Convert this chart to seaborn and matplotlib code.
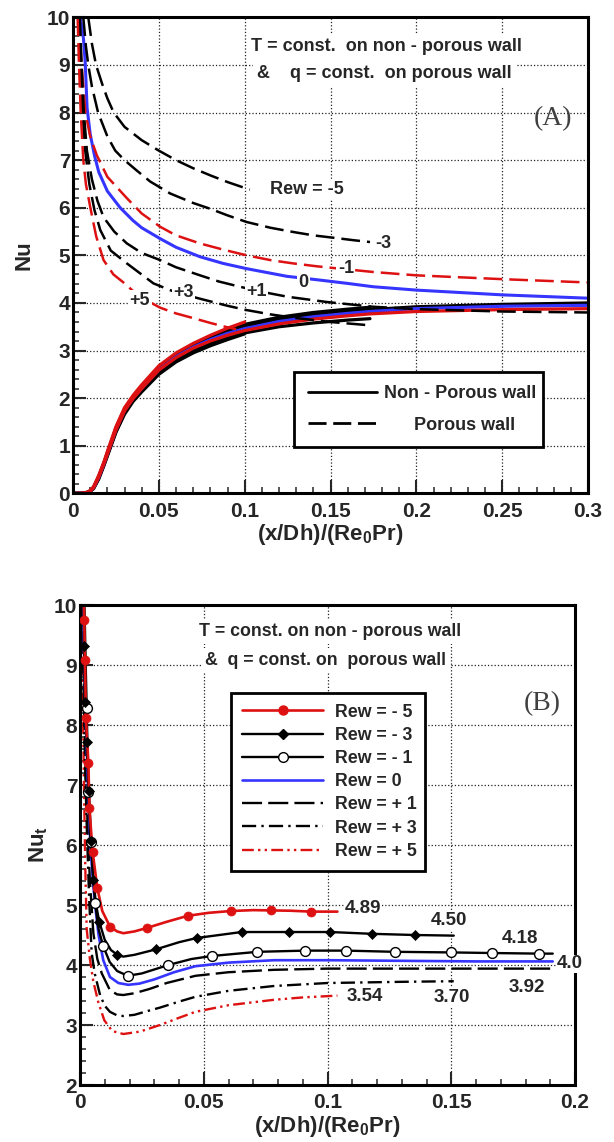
import numpy as np
import pandas as pd
import matplotlib
matplotlib.use("Agg")
import matplotlib.pyplot as plt
from matplotlib.lines import Line2D
from matplotlib.ticker import MultipleLocator
import seaborn as sns

sns.set_style("ticks")
plt.rcParams['font.family'] = ['Liberation Sans', 'DejaVu Sans']
plt.rcParams['font.weight'] = 'bold'
plt.rcParams['mathtext.fontset'] = 'custom'
plt.rcParams['mathtext.rm'] = 'Liberation Sans:bold'
plt.rcParams['mathtext.it'] = 'Liberation Sans:bold'
plt.rcParams['mathtext.bf'] = 'Liberation Sans:bold'

RED = '#dd1111'
BLUE = '#3535ff'

# ---------------- panel (A) data ----------------
# non-porous wall (solid, rising)
x_solid = [0.0, 0.005, 0.008, 0.01, 0.012, 0.015, 0.018, 0.02, 0.025, 0.03, 0.035, 0.04,
           0.05, 0.06, 0.07, 0.08, 0.09, 0.1, 0.12, 0.14, 0.16, 0.173, 0.2, 0.25, 0.3]
nu_solid_m5 = [0, 0, 0.01, 0.04, 0.1, 0.3, 0.58, 0.78, 1.28, 1.66, 1.93, 2.13, 2.5, 2.76, 2.95,
               3.1, 3.23, 3.35]
nu_solid_m3 = [0, 0, 0.01, 0.04, 0.11, 0.32, 0.6, 0.8, 1.3, 1.69, 1.96, 2.17, 2.55, 2.81, 3.0,
               3.15, 3.27, 3.37, 3.5, 3.58, 3.64, 3.67]
nu_solid_m1 = [0, 0, 0.015, 0.045, 0.12, 0.34, 0.62, 0.82, 1.33, 1.73, 1.99, 2.2, 2.59, 2.85,
               3.05, 3.2, 3.32, 3.42, 3.56, 3.66, 3.73, 3.77, 3.82, 3.86, 3.88]
nu_solid_0 = [0, 0, 0.015, 0.045, 0.12, 0.34, 0.62, 0.83, 1.34, 1.74, 2.0, 2.21, 2.6, 2.87,
              3.07, 3.23, 3.36, 3.46, 3.61, 3.71, 3.78, 3.82, 3.88, 3.93, 3.95]
nu_solid_p1 = [0, 0, 0.02, 0.05, 0.12, 0.35, 0.63, 0.84, 1.35, 1.75, 2.01, 2.23, 2.62, 2.9,
               3.11, 3.27, 3.4, 3.5, 3.65, 3.75, 3.82, 3.86, 3.92, 3.97, 4.0]
nu_solid_p3 = [0, 0, 0.02, 0.05, 0.13, 0.36, 0.64, 0.85, 1.37, 1.77, 2.03, 2.25, 2.64, 2.92,
               3.13, 3.3, 3.44, 3.55, 3.7, 3.8, 3.87, 3.91]
nu_solid_p5 = [0, 0, 0.02, 0.06, 0.14, 0.38, 0.66, 0.88, 1.4, 1.8, 2.06, 2.28, 2.68, 2.95,
               3.15, 3.32, 3.47, 3.6]

# porous wall (dashed, falling)
x_por_m5 = [0.0089, 0.011, 0.0134, 0.017, 0.02, 0.0237, 0.03, 0.04, 0.05, 0.06, 0.07, 0.08, 0.09, 0.103]
nu_por_m5 = [10, 9.45, 9.0, 8.6, 8.3, 8.0, 7.7, 7.42, 7.2, 7.0, 6.83, 6.68, 6.54, 6.38]
x_por_m3 = [0.006, 0.0075, 0.0089, 0.011, 0.0146, 0.02, 0.0246, 0.03, 0.0372, 0.045, 0.0566, 0.07,
            0.0798, 0.09, 0.1012, 0.115, 0.1284, 0.14, 0.1517, 0.163, 0.173]
nu_por_m3 = [10, 9.4, 9.0, 8.55, 8.0, 7.5, 7.2, 7.0, 6.78, 6.55, 6.3, 6.1, 5.98, 5.84, 5.7, 5.58,
             5.49, 5.42, 5.37, 5.32, 5.28]
x_por_m1 = [0.0035, 0.005, 0.0072, 0.01, 0.0139, 0.02, 0.0314, 0.04, 0.0508, 0.06, 0.074, 0.0875,
            0.1012, 0.115, 0.1284, 0.142, 0.1556, 0.175, 0.2, 0.25, 0.3]
nu_por_m1 = [10, 9, 8, 7.5, 7.1, 6.65, 6.2, 5.88, 5.6, 5.42, 5.25, 5.12, 5.0, 4.9, 4.83, 4.77,
             4.72, 4.65, 4.58, 4.5, 4.43]
x_por_0 = [0.0043, 0.0061, 0.0071, 0.0082, 0.01, 0.0125, 0.015, 0.02, 0.0275, 0.035, 0.04, 0.0508,
           0.06, 0.074, 0.0875, 0.1012, 0.1245, 0.1439, 0.16, 0.175, 0.2, 0.25, 0.3]
nu_por_0 = [10, 9.55, 9.06, 8.1, 7.55, 7.1, 6.75, 6.35, 6.0, 5.73, 5.58, 5.35, 5.17, 4.97, 4.83,
            4.72, 4.56, 4.48, 4.41, 4.34, 4.27, 4.17, 4.1]
x_por_p1 = [0.004, 0.005, 0.0063, 0.0081, 0.011, 0.0142, 0.0178, 0.024, 0.0314, 0.04, 0.0508, 0.06,
            0.074, 0.085, 0.0973, 0.112, 0.125, 0.1478, 0.175, 0.2, 0.25, 0.3]
nu_por_p1 = [10, 9, 8, 7.2, 6.6, 6.15, 5.8, 5.5, 5.25, 5.05, 4.9, 4.75, 4.58, 4.45, 4.34, 4.22,
             4.13, 4.02, 3.92, 3.87, 3.82, 3.8]
x_por_p3 = [0.0035, 0.0045, 0.0055, 0.0071, 0.0095, 0.0125, 0.0159, 0.022, 0.0314, 0.0469, 0.06,
            0.076, 0.09, 0.1012, 0.115, 0.1284, 0.15, 0.173]
nu_por_p3 = [10, 9, 8, 7.2, 6.5, 5.95, 5.53, 5.1, 4.83, 4.41, 4.22, 4.07, 3.94, 3.85, 3.76, 3.69,
             3.6, 3.53]
x_por_p5 = [0.0027, 0.0035, 0.0045, 0.006, 0.0075, 0.01, 0.0135, 0.0178, 0.0235, 0.0294, 0.035,
            0.042, 0.0508, 0.06, 0.0702, 0.08, 0.0886, 0.095]
nu_por_p5 = [10, 9, 8, 7, 6.5, 6.02, 5.4, 4.9, 4.6, 4.43, 4.25, 4.07, 3.9, 3.78, 3.68, 3.58, 3.5, 3.45]

curve_labels_a = ['Rew = -5', '-3', '-1', '0', '+1', '+3', '+5']
curve_label_pos_a = [(0.136, 6.38), (0.1805, 5.24), (0.159, 4.72), (0.134, 4.43),
                     (0.107, 4.24), (0.0643, 4.21), (0.039, 4.06)]

# ---------------- panel (B) data ----------------
x_b_m5 = [0.0016, 0.0020, 0.0024, 0.0034, 0.0038, 0.0051, 0.0070, 0.0090, 0.0121, 0.0150, 0.0175,
          0.0220, 0.0272, 0.0350, 0.0435, 0.0520, 0.0609, 0.0700, 0.0772, 0.0850, 0.0934, 0.1040]
nu_b_m5 = [10.0, 9.1, 8.11, 7.36, 6.61, 5.89, 5.28, 4.9, 4.64, 4.56, 4.53, 4.56, 4.62, 4.72, 4.82,
           4.87, 4.9, 4.915, 4.91, 4.905, 4.89, 4.89]
mx_b_m5 = [0.0018, 0.0019, 0.0024, 0.0034, 0.0038, 0.0051, 0.0070, 0.0121, 0.0272, 0.0435, 0.0609,
           0.0772, 0.0934]
my_b_m5 = [9.75, 9.08, 8.11, 7.36, 6.61, 5.89, 5.28, 4.64, 4.62, 4.82, 4.9, 4.91, 4.89]

x_b_m3 = [0.0014, 0.0016, 0.0020, 0.0027, 0.0036, 0.0045, 0.0054, 0.0065, 0.0078, 0.0100, 0.0125,
          0.0151, 0.0175, 0.0220, 0.0306, 0.0400, 0.0471, 0.0653, 0.0846, 0.1012, 0.1179, 0.1355, 0.1510]
nu_b_m3 = [10.0, 9.32, 8.39, 7.72, 6.9, 6.06, 5.42, 5.0, 4.72, 4.42, 4.25, 4.17, 4.14, 4.17, 4.26,
           4.38, 4.45, 4.55, 4.55, 4.55, 4.52, 4.5, 4.49]
mx_b_m3 = [0.0016, 0.0020, 0.0027, 0.0036, 0.0045, 0.0054, 0.0078, 0.0151, 0.0306, 0.0471, 0.0653,
           0.0846, 0.1012, 0.1179, 0.1355]
my_b_m3 = [9.32, 8.39, 7.72, 6.9, 6.06, 5.42, 4.72, 4.17, 4.26, 4.45, 4.55, 4.55, 4.55, 4.52, 4.5]

x_b_m1 = [0.0018, 0.0022, 0.0027, 0.0034, 0.0043, 0.0061, 0.0075, 0.0094, 0.0120, 0.0150, 0.0193,
          0.0250, 0.0357, 0.0450, 0.0532, 0.0717, 0.0911, 0.1075, 0.1273, 0.1497, 0.1665, 0.1853, 0.1910]
nu_b_m1 = [10.0, 9.2, 8.28, 6.89, 6.05, 5.04, 4.6, 4.31, 4.05, 3.9, 3.82, 3.86, 4.0, 4.1, 4.15, 4.22,
           4.24, 4.24, 4.22, 4.21, 4.2, 4.19, 4.19]
mx_b_m1 = [0.0027, 0.0034, 0.0043, 0.0061, 0.0094, 0.0193, 0.0357, 0.0532, 0.0717, 0.0911, 0.1075,
           0.1273, 0.1497, 0.1665, 0.1853]
my_b_m1 = [8.28, 6.89, 6.05, 5.04, 4.31, 3.82, 4.0, 4.15, 4.22, 4.24, 4.24, 4.22, 4.21, 4.2, 4.19]

x_b_0 = [0.0012, 0.0018, 0.0025, 0.0033, 0.0042, 0.0052, 0.0061, 0.0075, 0.0094, 0.0121, 0.0155,
         0.0195, 0.0240, 0.0300, 0.0380, 0.0466, 0.0600, 0.0783, 0.1000, 0.1300, 0.1600, 0.1910]
nu_b_0 = [10.0, 8.9, 7.9, 6.9, 6.0, 5.4, 5.0, 4.5, 4.08, 3.8, 3.7, 3.67, 3.69, 3.76, 3.88, 3.98,
          4.04, 4.08, 4.08, 4.07, 4.06, 4.06]

x_b_p1 = [0.0010, 0.0016, 0.0022, 0.0030, 0.0040, 0.0054, 0.0070, 0.0088, 0.0121, 0.0150, 0.0175,
          0.0220, 0.0280, 0.0350, 0.0466, 0.0600, 0.0783, 0.1000, 0.1300, 0.1600, 0.1910]
nu_b_p1 = [10.0, 8.6, 7.5, 6.4, 5.4, 4.53, 4.1, 3.86, 3.58, 3.51, 3.5, 3.53, 3.6, 3.7, 3.82, 3.88,
           3.92, 3.94, 3.94, 3.94, 3.94]

x_b_p3 = [0.0010, 0.0015, 0.0020, 0.0028, 0.0037, 0.0047, 0.0060, 0.0081, 0.0100, 0.0121, 0.0150,
          0.0175, 0.0220, 0.0270, 0.0323, 0.0400, 0.0466, 0.0600, 0.0783, 0.1000, 0.1300, 0.1510]
nu_b_p3 = [10.0, 8.5, 7.4, 6.2, 5.1, 4.2, 3.85, 3.5, 3.32, 3.22, 3.16, 3.15, 3.17, 3.23, 3.29, 3.39,
           3.47, 3.57, 3.65, 3.7, 3.72, 3.73]

x_b_p5 = [0.0008, 0.0012, 0.0016, 0.0021, 0.0027, 0.0040, 0.0054, 0.0074, 0.0098, 0.0130, 0.0175,
          0.0242, 0.0323, 0.0400, 0.0466, 0.0600, 0.0783, 0.0900, 0.1040]
nu_b_p5 = [10.0, 8.3, 7.0, 5.7, 4.6, 4.1, 3.72, 3.38, 3.08, 2.9, 2.85, 2.89, 3.0, 3.12, 3.22, 3.33,
           3.42, 3.46, 3.49]

legend_b = ['Rew = - 5', 'Rew = - 3', 'Rew = - 1', 'Rew = 0', 'Rew = + 1', 'Rew = + 3', 'Rew = + 5']
end_values_b = ['4.89', '4.50', '4.18', '4.0', '3.92', '3.70', '3.54']
end_value_pos_b = [(0.1143, 4.94), (0.149, 4.74), (0.1776, 4.44), (0.198, 4.02),
                   (0.1807, 3.63), (0.1502, 3.46), (0.1149, 3.48)]

xticks_a = [0, 0.05, 0.1, 0.15, 0.2, 0.25, 0.3]
xticklabels_a = ['0', '0.05', '0.1', '0.15', '0.2', '0.25', '0.3']
xticks_b = [0, 0.05, 0.1, 0.15, 0.2]
xticklabels_b = ['0', '0.05', '0.1', '0.15', '0.2']

DASH = (0, (7.5, 2.8))


def draw(ax, xs, ys, **kw):
    sns.lineplot(x=xs, y=ys, ax=ax, estimator=None, sort=False, legend=False, **kw)


def style_axes(ax, xticks, xlabels, ymin, ymax, xmax):
    ax.set_xlim(0, xmax)
    ax.set_ylim(ymin, ymax)
    ax.set_xticks(xticks)
    ax.set_xticklabels(xlabels)
    ax.set_yticks(range(ymin, ymax + 1))
    ax.xaxis.set_minor_locator(MultipleLocator(0.01))
    ax.yaxis.set_minor_locator(MultipleLocator(0.2))
    ax.tick_params(which='both', direction='in', top=False, right=False, labelsize=15)
    ax.tick_params(which='major', length=9.5, width=1.5)
    ax.tick_params(which='minor', length=4.5, width=1.1)
    ax.tick_params(axis='x', pad=6)
    ax.tick_params(axis='y', pad=2)
    ax.grid(True, which='major', ls=':', color='#222222', lw=0.9)
    ax.set_axisbelow(True)
    for s in ax.spines.values():
        s.set_linewidth(2.2)
        s.set_color('black')
    for t in ax.get_xticklabels() + ax.get_yticklabels():
        t.set_fontweight('bold')


fig = plt.figure(figsize=(6.14, 11.42), dpi=100)
ax1 = fig.add_axes([0.1189, 0.568, 0.8388, 0.4168])
ax2 = fig.add_axes([0.1303, 0.0499, 0.8062, 0.4203])

# ---------------- panel (A) ----------------
for ys, c in [(nu_solid_m5, 'black'), (nu_solid_m3, 'black'), (nu_solid_p1, 'black'),
              (nu_solid_p3, 'black'), (nu_solid_0, BLUE), (nu_solid_m1, RED), (nu_solid_p5, RED)]:
    draw(ax1, x_solid[:len(ys)], ys, color=c, linewidth=2.3)

draw(ax1, x_por_0, nu_por_0, color=BLUE, linewidth=2.2)
for xs, ys, c in [(x_por_m5, nu_por_m5, 'black'), (x_por_m3, nu_por_m3, 'black'),
                  (x_por_m1, nu_por_m1, RED), (x_por_p1, nu_por_p1, 'black'),
                  (x_por_p3, nu_por_p3, 'black'), (x_por_p5, nu_por_p5, RED)]:
    draw(ax1, xs, ys, color=c, linewidth=1.8, linestyle=DASH)

for lab, (xx, yy) in zip(curve_labels_a, curve_label_pos_a):
    ax1.text(xx, yy, lab, ha='center', va='center', fontsize=13, fontweight='bold', zorder=6,
             bbox=dict(fc='white', ec='none', pad=1.0))

ax1.text(0.1828, 9.38, 'T = const.  on non - porous wall', ha='center', va='center',
         fontsize=13, fontweight='bold', zorder=6, bbox=dict(fc='white', ec='none', pad=3))
ax1.text(0.1815, 8.82, '&    q = const.  on porous wall', ha='center', va='center',
         fontsize=13, fontweight='bold', zorder=6, bbox=dict(fc='white', ec='none', pad=3))
ax1.text(0.2795, 7.88, '(A)', ha='center', va='center', fontsize=20, color='#404040',
         family='Liberation Serif', fontweight='normal')

handles_a = [Line2D([], [], color='black', lw=2.0),
             Line2D([], [], color='black', lw=2.0, linestyle=(0, (6.5, 2.4)))]
leg1 = ax1.legend(handles_a, ['Non - Porous wall', '      Porous wall'], loc='lower left',
                  bbox_to_anchor=(0.43, 0.097, 0.482, 0.159), mode='expand', borderaxespad=0,
                  fancybox=False, framealpha=1, edgecolor='black', fontsize=13,
                  handlelength=3.8, handletextpad=0.4, labelspacing=0.8, borderpad=0.75)
leg1.get_frame().set_linewidth(2.0)
for t in leg1.get_texts():
    t.set_fontweight('bold')

style_axes(ax1, xticks_a, xticklabels_a, 0, 10, 0.3)
ax1.set_xlabel('(x/Dh)/(Re$_0$Pr)', fontsize=16, fontweight='bold', labelpad=1)
ax1.set_ylabel('Nu', fontsize=16, fontweight='bold', labelpad=9)

# ---------------- panel (B) ----------------
draw(ax2, x_b_p5, nu_b_p5, color=RED, linewidth=1.7, linestyle=(0, (5, 1.8, 1, 1.8, 1, 1.8)))
draw(ax2, x_b_p3, nu_b_p3, color='black', linewidth=1.7, linestyle=(0, (6, 2.2, 1, 2.2)))
draw(ax2, x_b_p1, nu_b_p1, color='black', linewidth=1.7, linestyle=(0, (8.5, 2.6)))
draw(ax2, x_b_0, nu_b_0, color=BLUE, linewidth=1.9)
draw(ax2, x_b_m1, nu_b_m1, color='black', linewidth=1.7)
draw(ax2, x_b_m3, nu_b_m3, color='black', linewidth=1.7)
draw(ax2, x_b_m5, nu_b_m5, color=RED, linewidth=1.9)

sns.scatterplot(x=mx_b_m1, y=my_b_m1, ax=ax2, marker='o', s=50, color='white',
                edgecolor='black', linewidth=1.0, zorder=4, legend=False)
sns.scatterplot(x=mx_b_m3, y=my_b_m3, ax=ax2, marker='D', s=26, color='black',
                edgecolor='black', linewidth=0.5, zorder=4, legend=False)
sns.scatterplot(x=mx_b_m5, y=my_b_m5, ax=ax2, marker='o', s=42, color=RED,
                edgecolor=RED, linewidth=0.5, zorder=4, legend=False)

for lab, (xx, yy) in zip(end_values_b, end_value_pos_b):
    ax2.text(xx, yy, lab, ha='center', va='center', fontsize=13.5, fontweight='bold',
             zorder=6, clip_on=False, bbox=dict(fc='white', ec='none', pad=0.5))

ax2.text(0.1009, 9.56, 'T = const. on non - porous wall', ha='center', va='center',
         fontsize=12.8, fontweight='bold', zorder=6, bbox=dict(fc='white', ec='none', pad=3))
ax2.text(0.0993, 9.07, '&  q = const. on  porous wall', ha='center', va='center',
         fontsize=12.8, fontweight='bold', zorder=6, bbox=dict(fc='white', ec='none', pad=3))
ax2.text(0.1866, 8.35, '(B)', ha='center', va='center', fontsize=20, color='#404040',
         family='Liberation Serif', fontweight='normal')

handles_b = [Line2D([], [], color=RED, lw=1.9, marker='o', ms=6.5, mfc=RED, mec=RED),
             Line2D([], [], color='black', lw=1.7, marker='D', ms=5, mfc='black', mec='black'),
             Line2D([], [], color='black', lw=1.7, marker='o', ms=7, mfc='white', mec='black'),
             Line2D([], [], color=BLUE, lw=1.9),
             Line2D([], [], color='black', lw=1.7, linestyle=(0, (8.5, 2.6))),
             Line2D([], [], color='black', lw=1.7, linestyle=(0, (6, 2.2, 1, 2.2))),
             Line2D([], [], color=RED, lw=1.7, linestyle=(0, (5, 1.8, 1, 1.8, 1, 1.8)))]
leg2 = ax2.legend(handles_b, legend_b, loc='upper left',
                  bbox_to_anchor=(0.305, 0.446, 0.392, 0.371), mode='expand', borderaxespad=0,
                  fancybox=False, framealpha=1, edgecolor='black', fontsize=12.8,
                  handlelength=4.6, handletextpad=0.65, labelspacing=0.35, borderpad=0.6)
leg2.get_frame().set_linewidth(2.0)
for t in leg2.get_texts():
    t.set_fontweight('bold')

style_axes(ax2, xticks_b, xticklabels_b, 2, 10, 0.2)
ax2.set_xlabel('(x/Dh)/(Re$_0$Pr)', fontsize=16, fontweight='bold', labelpad=1)
ax2.set_ylabel('Nu$_t$', fontsize=16, fontweight='bold', labelpad=3)

fig.savefig('out.png', dpi=100)
